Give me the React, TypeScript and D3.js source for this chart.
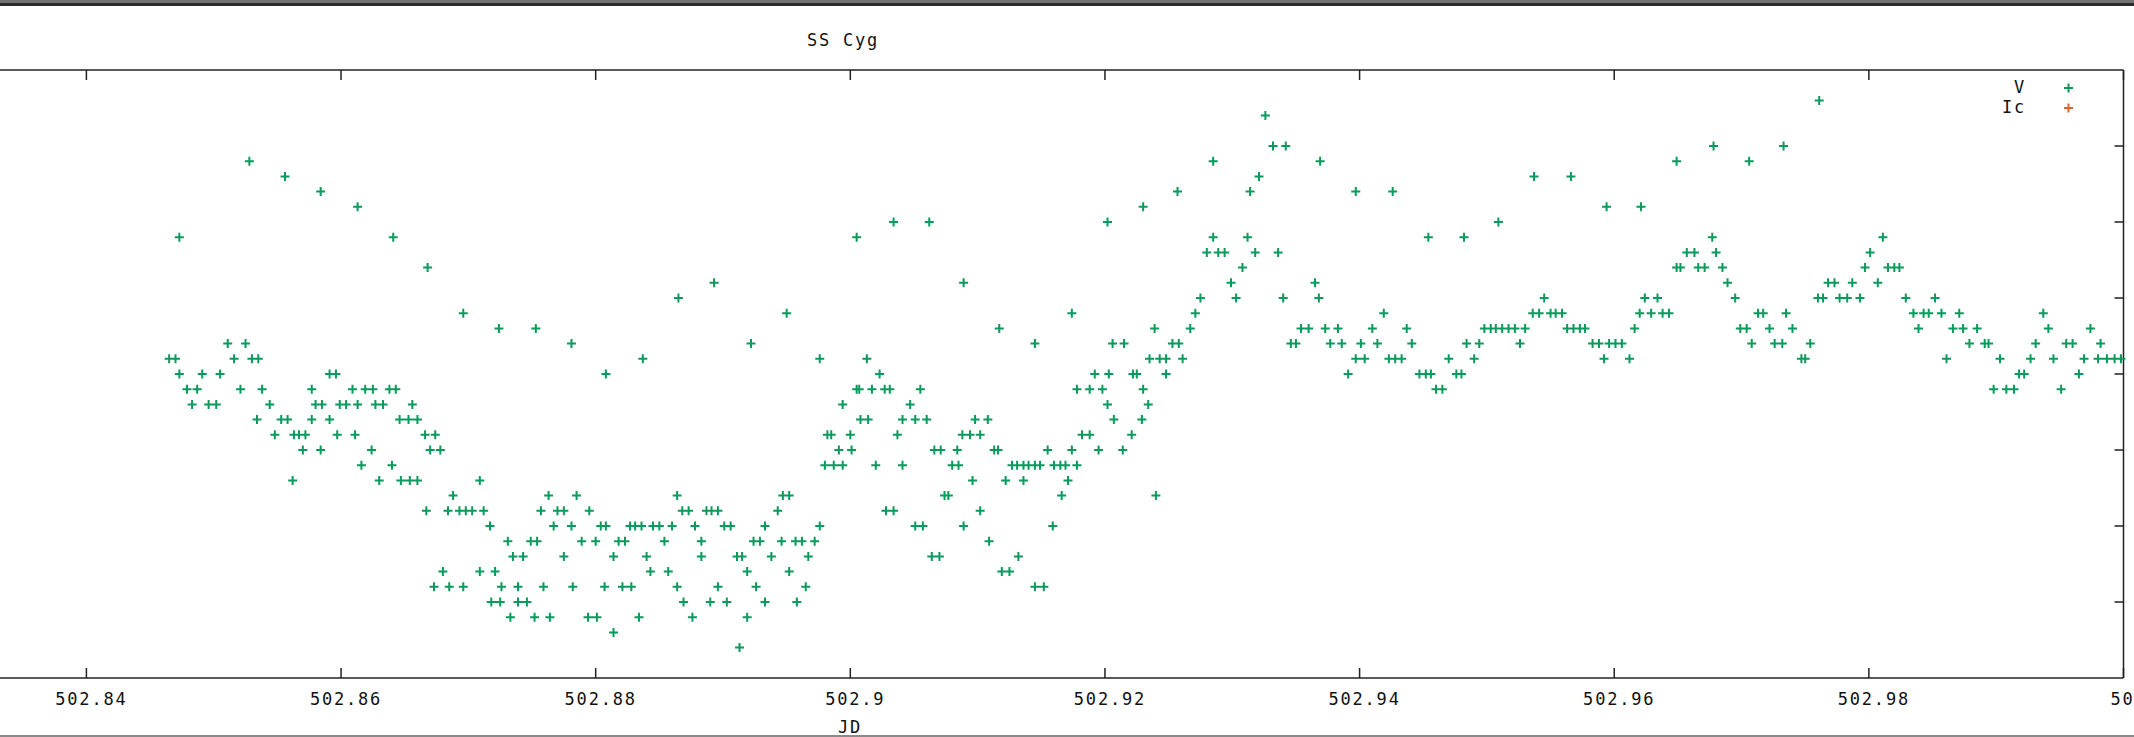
import React from 'react';
import * as d3 from 'd3';

// SS Cyg light curve, JD (offset) vs magnitude, drawn in a gnuplot-like style.
const WIDTH = 2134;
const HEIGHT = 737;

const TITLE = 'SS Cyg';
const X_LABEL = 'JD';
const X_TICKS = [502.84, 502.86, 502.88, 502.9, 502.92, 502.94, 502.96, 502.98, 503.0];
const X_TICK_LABELS = ['502.84', '502.86', '502.88', '502.9', '502.92', '502.94', '502.96', '502.98', '503'];
const Y_TICKS = [11.85, 11.9, 11.95, 12.0, 12.05, 12.1, 12.15];
const X_DOMAIN = [502.84, 503.0];
const Y_DOMAIN = [11.8, 12.2];

const SERIES_NAMES = ['V', 'Ic'];
const SERIES_COLORS = ['#0a9b5c', '#e0642a'];

// V band observations: [JD - 2455000, magnitude]
const V_OBS: [number, number][] = [
  [502.8465, 11.99], [502.8470, 11.99], [502.8473, 12.00], [502.8473, 11.91], [502.8479, 12.01],
  [502.8483, 12.02], [502.8487, 12.01], [502.8491, 12.00], [502.8496, 12.02], [502.8502, 12.02],
  [502.8505, 12.00], [502.8511, 11.98], [502.8516, 11.99], [502.8521, 12.01], [502.8525, 11.98],
  [502.8528, 11.86], [502.8530, 11.99], [502.8534, 12.03], [502.8535, 11.99], [502.8538, 12.01],
  [502.8544, 12.02], [502.8548, 12.04], [502.8553, 12.03], [502.8556, 11.87], [502.8558, 12.03],
  [502.8562, 12.07], [502.8563, 12.04], [502.8567, 12.04], [502.8570, 12.05], [502.8572, 12.04],
  [502.8577, 12.01], [502.8577, 12.03], [502.8580, 12.02], [502.8584, 11.88], [502.8584, 12.05],
  [502.8585, 12.02], [502.8591, 12.03], [502.8591, 12.00], [502.8596, 12.00], [502.8597, 12.04],
  [502.8599, 12.02], [502.8604, 12.02], [502.8609, 12.01], [502.8611, 12.04], [502.8613, 11.89],
  [502.8613, 12.02], [502.8616, 12.06], [502.8619, 12.01], [502.8624, 12.05], [502.8625, 12.01],
  [502.8627, 12.02], [502.8630, 12.07], [502.8633, 12.02], [502.8638, 12.01], [502.8640, 12.06],
  [502.8641, 11.91], [502.8643, 12.01], [502.8646, 12.03], [502.8647, 12.07], [502.8653, 12.03],
  [502.8654, 12.07], [502.8656, 12.02], [502.8660, 12.03], [502.8660, 12.07], [502.8666, 12.04],
  [502.8667, 12.09], [502.8668, 11.93], [502.8670, 12.05], [502.8673, 12.14], [502.8674, 12.04],
  [502.8678, 12.05], [502.8680, 12.13], [502.8684, 12.09], [502.8685, 12.14], [502.8688, 12.08],
  [502.8693, 12.09], [502.8696, 11.96], [502.8696, 12.14], [502.8698, 12.09], [502.8703, 12.09],
  [502.8709, 12.07], [502.8709, 12.13], [502.8712, 12.09], [502.8717, 12.10], [502.8718, 12.15],
  [502.8721, 12.13], [502.8724, 11.97], [502.8725, 12.15], [502.8726, 12.14], [502.8731, 12.11],
  [502.8733, 12.16], [502.8735, 12.12], [502.8739, 12.14], [502.8739, 12.15], [502.8743, 12.12],
  [502.8746, 12.15], [502.8749, 12.11], [502.8752, 12.16], [502.8753, 11.97], [502.8754, 12.11],
  [502.8757, 12.09], [502.8759, 12.14], [502.8763, 12.08], [502.8764, 12.16], [502.8767, 12.10],
  [502.8770, 12.09], [502.8775, 12.09], [502.8775, 12.12], [502.8781, 11.98], [502.8781, 12.10],
  [502.8782, 12.14], [502.8785, 12.08], [502.8789, 12.11], [502.8794, 12.16], [502.8795, 12.09],
  [502.8800, 12.11], [502.8801, 12.16], [502.8804, 12.10], [502.8807, 12.14], [502.8808, 12.00],
  [502.8808, 12.10], [502.8814, 12.12], [502.8814, 12.17], [502.8818, 12.11], [502.8821, 12.14],
  [502.8823, 12.11], [502.8827, 12.10], [502.8828, 12.14], [502.8831, 12.10], [502.8834, 12.16],
  [502.8836, 12.10], [502.8837, 11.99], [502.8840, 12.12], [502.8843, 12.13], [502.8845, 12.10],
  [502.8850, 12.10], [502.8854, 12.11], [502.8857, 12.13], [502.8860, 12.10], [502.8864, 12.08],
  [502.8864, 12.14], [502.8865, 11.95], [502.8868, 12.09], [502.8869, 12.15], [502.8873, 12.09],
  [502.8876, 12.16], [502.8878, 12.10], [502.8883, 12.11], [502.8883, 12.12], [502.8887, 12.09],
  [502.8890, 12.15], [502.8891, 12.09], [502.8893, 11.94], [502.8896, 12.14], [502.8896, 12.09],
  [502.8901, 12.10], [502.8903, 12.15], [502.8906, 12.10], [502.8911, 12.12], [502.8913, 12.18],
  [502.8915, 12.12], [502.8919, 12.13], [502.8919, 12.16], [502.8922, 11.98], [502.8924, 12.11],
  [502.8926, 12.14], [502.8929, 12.11], [502.8933, 12.10], [502.8933, 12.15], [502.8938, 12.12],
  [502.8943, 12.09], [502.8946, 12.11], [502.8947, 12.08], [502.8950, 11.96], [502.8952, 12.08],
  [502.8952, 12.13], [502.8957, 12.11], [502.8958, 12.15], [502.8962, 12.11], [502.8965, 12.14],
  [502.8967, 12.12],
  [502.8972, 12.11], [502.8976, 11.99], [502.8976, 12.10], [502.8980, 12.06], [502.8982, 12.04],
  [502.8985, 12.04], [502.8987, 12.06], [502.8991, 12.05], [502.8994, 12.02], [502.8994, 12.06],
  [502.9000, 12.04], [502.9001, 12.05], [502.9005, 12.01], [502.9005, 11.91], [502.9007, 12.01],
  [502.9008, 12.03], [502.9013, 11.99], [502.9014, 12.03], [502.9017, 12.01], [502.9020, 12.06],
  [502.9023, 12.00], [502.9027, 12.01], [502.9028, 12.09], [502.9031, 12.01], [502.9034, 11.90],
  [502.9034, 12.09], [502.9037, 12.04], [502.9041, 12.03], [502.9041, 12.06], [502.9047, 12.02],
  [502.9051, 12.03], [502.9051, 12.10], [502.9055, 12.01], [502.9057, 12.10], [502.9060, 12.03],
  [502.9062, 11.90], [502.9064, 12.12], [502.9066, 12.05], [502.9070, 12.12], [502.9071, 12.05],
  [502.9074, 12.08], [502.9077, 12.08], [502.9080, 12.06], [502.9084, 12.05], [502.9085, 12.06],
  [502.9088, 12.04], [502.9089, 11.94], [502.9089, 12.10], [502.9094, 12.04], [502.9096, 12.07],
  [502.9098, 12.03], [502.9102, 12.04], [502.9102, 12.09], [502.9108, 12.03], [502.9109, 12.11],
  [502.9113, 12.05], [502.9116, 12.05], [502.9117, 11.97], [502.9119, 12.13], [502.9122, 12.07],
  [502.9125, 12.13], [502.9127, 12.06], [502.9131, 12.06], [502.9132, 12.12], [502.9136, 12.06],
  [502.9136, 12.07], [502.9140, 12.06], [502.9145, 12.06], [502.9145, 11.98], [502.9145, 12.14],
  [502.9149, 12.06], [502.9152, 12.14], [502.9155, 12.05], [502.9159, 12.10], [502.9160, 12.06],
  [502.9165, 12.06], [502.9166, 12.08], [502.9169, 12.06], [502.9171, 12.07], [502.9174, 11.96],
  [502.9174, 12.05], [502.9178, 12.01], [502.9178, 12.06], [502.9182, 12.04], [502.9188, 12.01],
  [502.9188, 12.04], [502.9192, 12.00], [502.9195, 12.05], [502.9198, 12.01], [502.9202, 11.90],
  [502.9202, 12.02], [502.9203, 12.00], [502.9206, 11.98], [502.9207, 12.03], [502.9214, 12.05],
  [502.9215, 11.98], [502.9221, 12.04], [502.9222, 12.00], [502.9225, 12.00],
  [502.9229, 12.03], [502.9230, 11.89], [502.9230, 12.01], [502.9234, 12.02], [502.9235, 11.99],
  [502.9239, 11.97], [502.9240, 12.08], [502.9243, 11.99], [502.9248, 11.99], [502.9248, 12.00],
  [502.9253, 11.98], [502.9257, 11.88], [502.9258, 11.98], [502.9261, 11.99], [502.9267, 11.97],
  [502.9271, 11.96], [502.9275, 11.95], [502.9280, 11.92], [502.9285, 11.86], [502.9285, 11.91],
  [502.9289, 11.92], [502.9294, 11.92], [502.9299, 11.94], [502.9303, 11.95], [502.9308, 11.93],
  [502.9312, 11.91], [502.9314, 11.88], [502.9318, 11.92], [502.9321, 11.87], [502.9326, 11.83],
  [502.9332, 11.85], [502.9336, 11.92], [502.9340, 11.95], [502.9342, 11.85], [502.9346, 11.98],
  [502.9350, 11.98], [502.9354, 11.97], [502.9360, 11.97], [502.9365, 11.94], [502.9368, 11.95],
  [502.9369, 11.86], [502.9373, 11.97], [502.9377, 11.98], [502.9383, 11.97], [502.9386, 11.98],
  [502.9391, 12.00], [502.9397, 11.88], [502.9397, 11.99], [502.9401, 11.98], [502.9404, 11.99],
  [502.9410, 11.97], [502.9414, 11.98], [502.9419, 11.96], [502.9423, 11.99], [502.9426, 11.88],
  [502.9428, 11.99], [502.9433, 11.99], [502.9437, 11.97], [502.9441, 11.98], [502.9447, 12.00],
  [502.9452, 12.00], [502.9454, 11.91], [502.9456, 12.00], [502.9460, 12.01], [502.9465, 12.01],
  [502.9470, 11.99], [502.9476, 12.00], [502.9480, 12.00], [502.9482, 11.91], [502.9484, 11.98],
  [502.9490, 11.99], [502.9494, 11.98], [502.9498, 11.97], [502.9503, 11.97], [502.9507, 11.97],
  [502.9509, 11.90], [502.9512, 11.97], [502.9517, 11.97], [502.9522, 11.97], [502.9526, 11.98],
  [502.9530, 11.97], [502.9536, 11.96], [502.9537, 11.87], [502.9541, 11.96], [502.9545, 11.95],
  [502.9550, 11.96], [502.9554, 11.96], [502.9559, 11.96], [502.9563, 11.97], [502.9566, 11.87],
  [502.9568, 11.97], [502.9573, 11.97], [502.9577, 11.97], [502.9583, 11.98], [502.9588, 11.98],
  [502.9592, 11.99], [502.9594, 11.89], [502.9596, 11.98], [502.9601, 11.98], [502.9606, 11.98],
  [502.9612, 11.99], [502.9616, 11.97], [502.9620, 11.96], [502.9621, 11.89], [502.9624, 11.95],
  [502.9629, 11.96], [502.9634, 11.95], [502.9638, 11.96], [502.9643, 11.96], [502.9649, 11.93],
  [502.9649, 11.86], [502.9652, 11.93], [502.9657, 11.92], [502.9663, 11.92], [502.9666, 11.93],
  [502.9671, 11.93], [502.9677, 11.91], [502.9678, 11.85], [502.9680, 11.92], [502.9685, 11.93],
  [502.9689, 11.94], [502.9695, 11.95], [502.9699, 11.97], [502.9704, 11.97], [502.9706, 11.86],
  [502.9708, 11.98], [502.9713, 11.96], [502.9717, 11.96], [502.9722, 11.97], [502.9726, 11.98],
  [502.9732, 11.98], [502.9733, 11.85], [502.9735, 11.96], [502.9740, 11.97],
  [502.9747, 11.99], [502.9750, 11.99], [502.9754, 11.98], [502.9760, 11.95], [502.9761, 11.82],
  [502.9764, 11.95], [502.9768, 11.94], [502.9773, 11.94], [502.9777, 11.95], [502.9783, 11.95],
  [502.9787, 11.94], [502.9793, 11.95], [502.9797, 11.93], [502.9801, 11.92], [502.9807, 11.94],
  [502.9811, 11.91], [502.9815, 11.93], [502.9820, 11.93], [502.9824, 11.93], [502.9829, 11.95],
  [502.9835, 11.96], [502.9839, 11.97], [502.9843, 11.96], [502.9847, 11.96], [502.9852, 11.95],
  [502.9857, 11.96], [502.9861, 11.99], [502.9866, 11.97], [502.9871, 11.96], [502.9874, 11.97],
  [502.9879, 11.98], [502.9885, 11.97], [502.9891, 11.98], [502.9894, 11.98], [502.9898, 12.01],
  [502.9903, 11.99], [502.9908, 12.01], [502.9914, 12.01], [502.9918, 12.00], [502.9922, 12.00],
  [502.9927, 11.99], [502.9931, 11.98], [502.9937, 11.96], [502.9941, 11.97], [502.9945, 11.99],
  [502.9951, 12.01], [502.9955, 11.98], [502.9960, 11.98], [502.9965, 12.00], [502.9969, 11.99],
  [502.9974, 11.97], [502.9980, 11.99], [502.9982, 11.98], [502.9987, 11.99], [502.9993, 11.99],
  [502.9998, 11.99],
];

// Ic observations fall outside the plotted magnitude window
const IC_OBS: [number, number][] = [];

const FONT = '"DejaVu Sans Mono", "Liberation Mono", monospace';

function plusPath(cx: number, cy: number, r: number) {
  return `M${cx - r},${cy}H${cx + r}M${cx},${cy - r}V${cy + r}`;
}

export default function App() {
  const x = d3.scaleLinear().domain(X_DOMAIN).range([86.4, 2123.5]);
  const y = d3.scaleLinear().domain(Y_DOMAIN).range([70, 678]);

  const left = 0;
  const right = x(X_DOMAIN[1]);
  const top = y(Y_DOMAIN[0]);
  const bottom = y(Y_DOMAIN[1]);
  const frame = '#222';

  const inRange = (d: [number, number]) =>
    d[0] >= X_DOMAIN[0] && d[0] <= X_DOMAIN[1] && d[1] >= Y_DOMAIN[0] && d[1] <= Y_DOMAIN[1];

  const seriesData = [V_OBS, IC_OBS];

  const textStyle: React.CSSProperties = {
    fontFamily: FONT,
    fontSize: 17,
    letterSpacing: 1.8,
    fill: '#111',
  };

  return (
    <svg
      width={WIDTH}
      height={HEIGHT}
      viewBox={`0 0 ${WIDTH} ${HEIGHT}`}
      style={{ position: 'absolute', left: 0, top: 0, background: '#fff', display: 'block' }}
    >
      <rect x={0} y={0} width={WIDTH} height={HEIGHT} fill="#fff" />
      {/* window chrome */}
      <rect x={0} y={0} width={WIDTH} height={3} fill="#737373" />
      <rect x={0} y={3} width={WIDTH} height={3} fill="#2c2c2c" />
      <rect x={0} y={735} width={WIDTH} height={2} fill="#8a8a8a" />

      {/* title */}
      <text x={843} y={46} textAnchor="middle" style={textStyle}>
        {TITLE}
      </text>

      {/* frame */}
      <g stroke={frame} strokeWidth={1.5} fill="none">
        <line x1={left} x2={right} y1={top} y2={top} />
        <line x1={left} x2={right} y1={bottom} y2={bottom} />
        <line x1={right} x2={right} y1={top} y2={bottom} />
      </g>

      {/* x ticks, bottom and mirrored on top */}
      <g stroke={frame} strokeWidth={1.5}>
        {X_TICKS.map((t) => (
          <g key={`xt${t}`}>
            <line x1={x(t)} x2={x(t)} y1={bottom} y2={bottom - 10} />
            <line x1={x(t)} x2={x(t)} y1={top} y2={top + 10} />
          </g>
        ))}
        {Y_TICKS.map((t) => (
          <line key={`yt${t}`} x1={right} x2={right - 9} y1={y(t)} y2={y(t)} />
        ))}
      </g>

      {/* x tick labels */}
      {X_TICKS.map((t, i) => (
        <text key={`xl${t}`} x={x(t) + 5} y={705} textAnchor="middle" style={textStyle}>
          {X_TICK_LABELS[i]}
        </text>
      ))}
      <text x={850} y={733} textAnchor="middle" style={textStyle}>
        {X_LABEL}
      </text>

      {/* data */}
      {seriesData.map((data, si) => (
        <path
          key={SERIES_NAMES[si]}
          d={data.filter(inRange).map((d) => plusPath(x(d[0]), y(d[1]), 4.5)).join('')}
          stroke={SERIES_COLORS[si]}
          strokeWidth={2}
          fill="none"
        />
      ))}

      {/* key */}
      {SERIES_NAMES.map((name, i) => (
        <g key={`key${name}`}>
          <text x={2026} y={93 + i * 20} textAnchor="end" style={textStyle}>
            {name}
          </text>
          <path d={plusPath(2068.5, 88 + i * 20, 4.5)} stroke={SERIES_COLORS[i]} strokeWidth={2} fill="none" />
        </g>
      ))}
    </svg>
  );
}
